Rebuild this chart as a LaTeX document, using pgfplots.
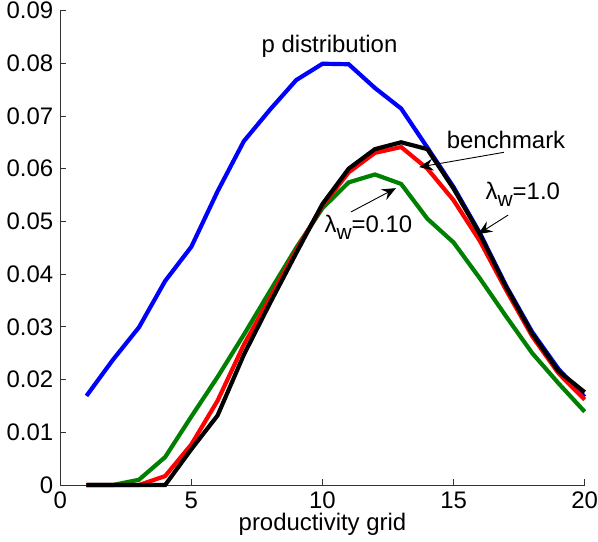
\documentclass[border=0pt]{standalone}
\usepackage{fontspec}
\setmainfont{Liberation Sans}
\usepackage{pgfplots}
\pgfplotsset{compat=1.18}
\usetikzlibrary{arrows.meta}
\definecolor{mgreen}{rgb}{0,0.5,0}
\newcommand{\lw}{λ\raisebox{-0.55ex}{\fontsize{10.5}{11}\selectfont w}}
\tikzset{ann/.style={-{Stealth[length=7pt,width=6pt,inset=2.5pt]}, line width=0.45pt, black}}
\begin{document}
\begin{tikzpicture}
\begin{axis}[
  scale only axis,
  width=263pt, height=238pt,
  xmin=0, xmax=20, ymin=0, ymax=0.09,
  axis lines=left,
  axis line style={-, black!80, line width=0.4pt},
  tick align=inside,
  major tick length=3pt,
  tick style={black!80, line width=0.4pt},
  xtick={0,5,10,15,20},
  ytick={0,0.01,0.02,0.03,0.04,0.05,0.06,0.07,0.08,0.09},
  scaled y ticks=false,
  yticklabel style={/pgf/number format/.cd, fixed, precision=2, assume math mode=true, /tikz/inner ysep=1pt},
  xticklabel style={/pgf/number format/assume math mode=true, inner xsep=0pt},
  font=\fontsize{12}{14}\selectfont,
  xlabel={productivity grid},
  xlabel style={yshift=5pt},
  clip=false,
]
\addplot[blue, line width=2.1pt] coordinates {
  (1,0.0169) (2,0.0237) (3,0.0299) (4,0.0387) (5,0.0452) (6,0.0557) (7,0.0652) (8,0.0712) (9,0.0768) (10,0.0799)
  (11,0.0798) (12,0.0753) (13,0.0714) (14,0.0640) (15,0.0565) (16,0.0478) (17,0.0378) (18,0.0290) (19,0.0220) (20,0.0167)
};
\addplot[mgreen, line width=2.1pt] coordinates {
  (1,0) (2,0) (3,0.0010) (4,0.0053) (5,0.0130) (6,0.0205) (7,0.0285) (8,0.0368) (9,0.0450) (10,0.0525)
  (11,0.0574) (12,0.0589) (13,0.0571) (14,0.0505) (15,0.0460) (16,0.0392) (17,0.0320) (18,0.0250) (19,0.0193) (20,0.0139)
};
\addplot[red, line width=2.1pt] coordinates {
  (1,0) (2,0) (3,0) (4,0.0017) (5,0.0077) (6,0.0160) (7,0.0266) (8,0.0355) (9,0.0445) (10,0.0530)
  (11,0.0593) (12,0.0630) (13,0.0641) (14,0.0600) (15,0.0540) (16,0.0463) (17,0.0370) (18,0.0282) (19,0.0212) (20,0.0162)
};
\addplot[black, line width=2.1pt] coordinates {
  (1,0) (2,0) (3,0) (4,0) (5,0.0068) (6,0.0132) (7,0.0247) (8,0.0345) (9,0.0440) (10,0.0533)
  (11,0.0600) (12,0.0637) (13,0.0650) (14,0.0637) (15,0.0562) (16,0.0476) (17,0.0376) (18,0.0287) (19,0.0216) (20,0.0176)
};
% annotations
\node at (axis cs:10.27,0.0832) {p distribution};
\node at (axis cs:17.0,0.0654) {benchmark};
\draw[ann] (axis cs:16.92,0.0631) -- (axis cs:13.69,0.0603);
\node at (axis cs:17.64,0.0552) {\lw=1.0};
\draw[ann] (axis cs:17.08,0.0512) -- (axis cs:15.94,0.0476);
\node at (axis cs:11.75,0.0489) {\lw=0.10};
\draw[ann] (axis cs:11.09,0.0518) -- (axis cs:12.8,0.0563);
\end{axis}
\end{tikzpicture}
\end{document}
